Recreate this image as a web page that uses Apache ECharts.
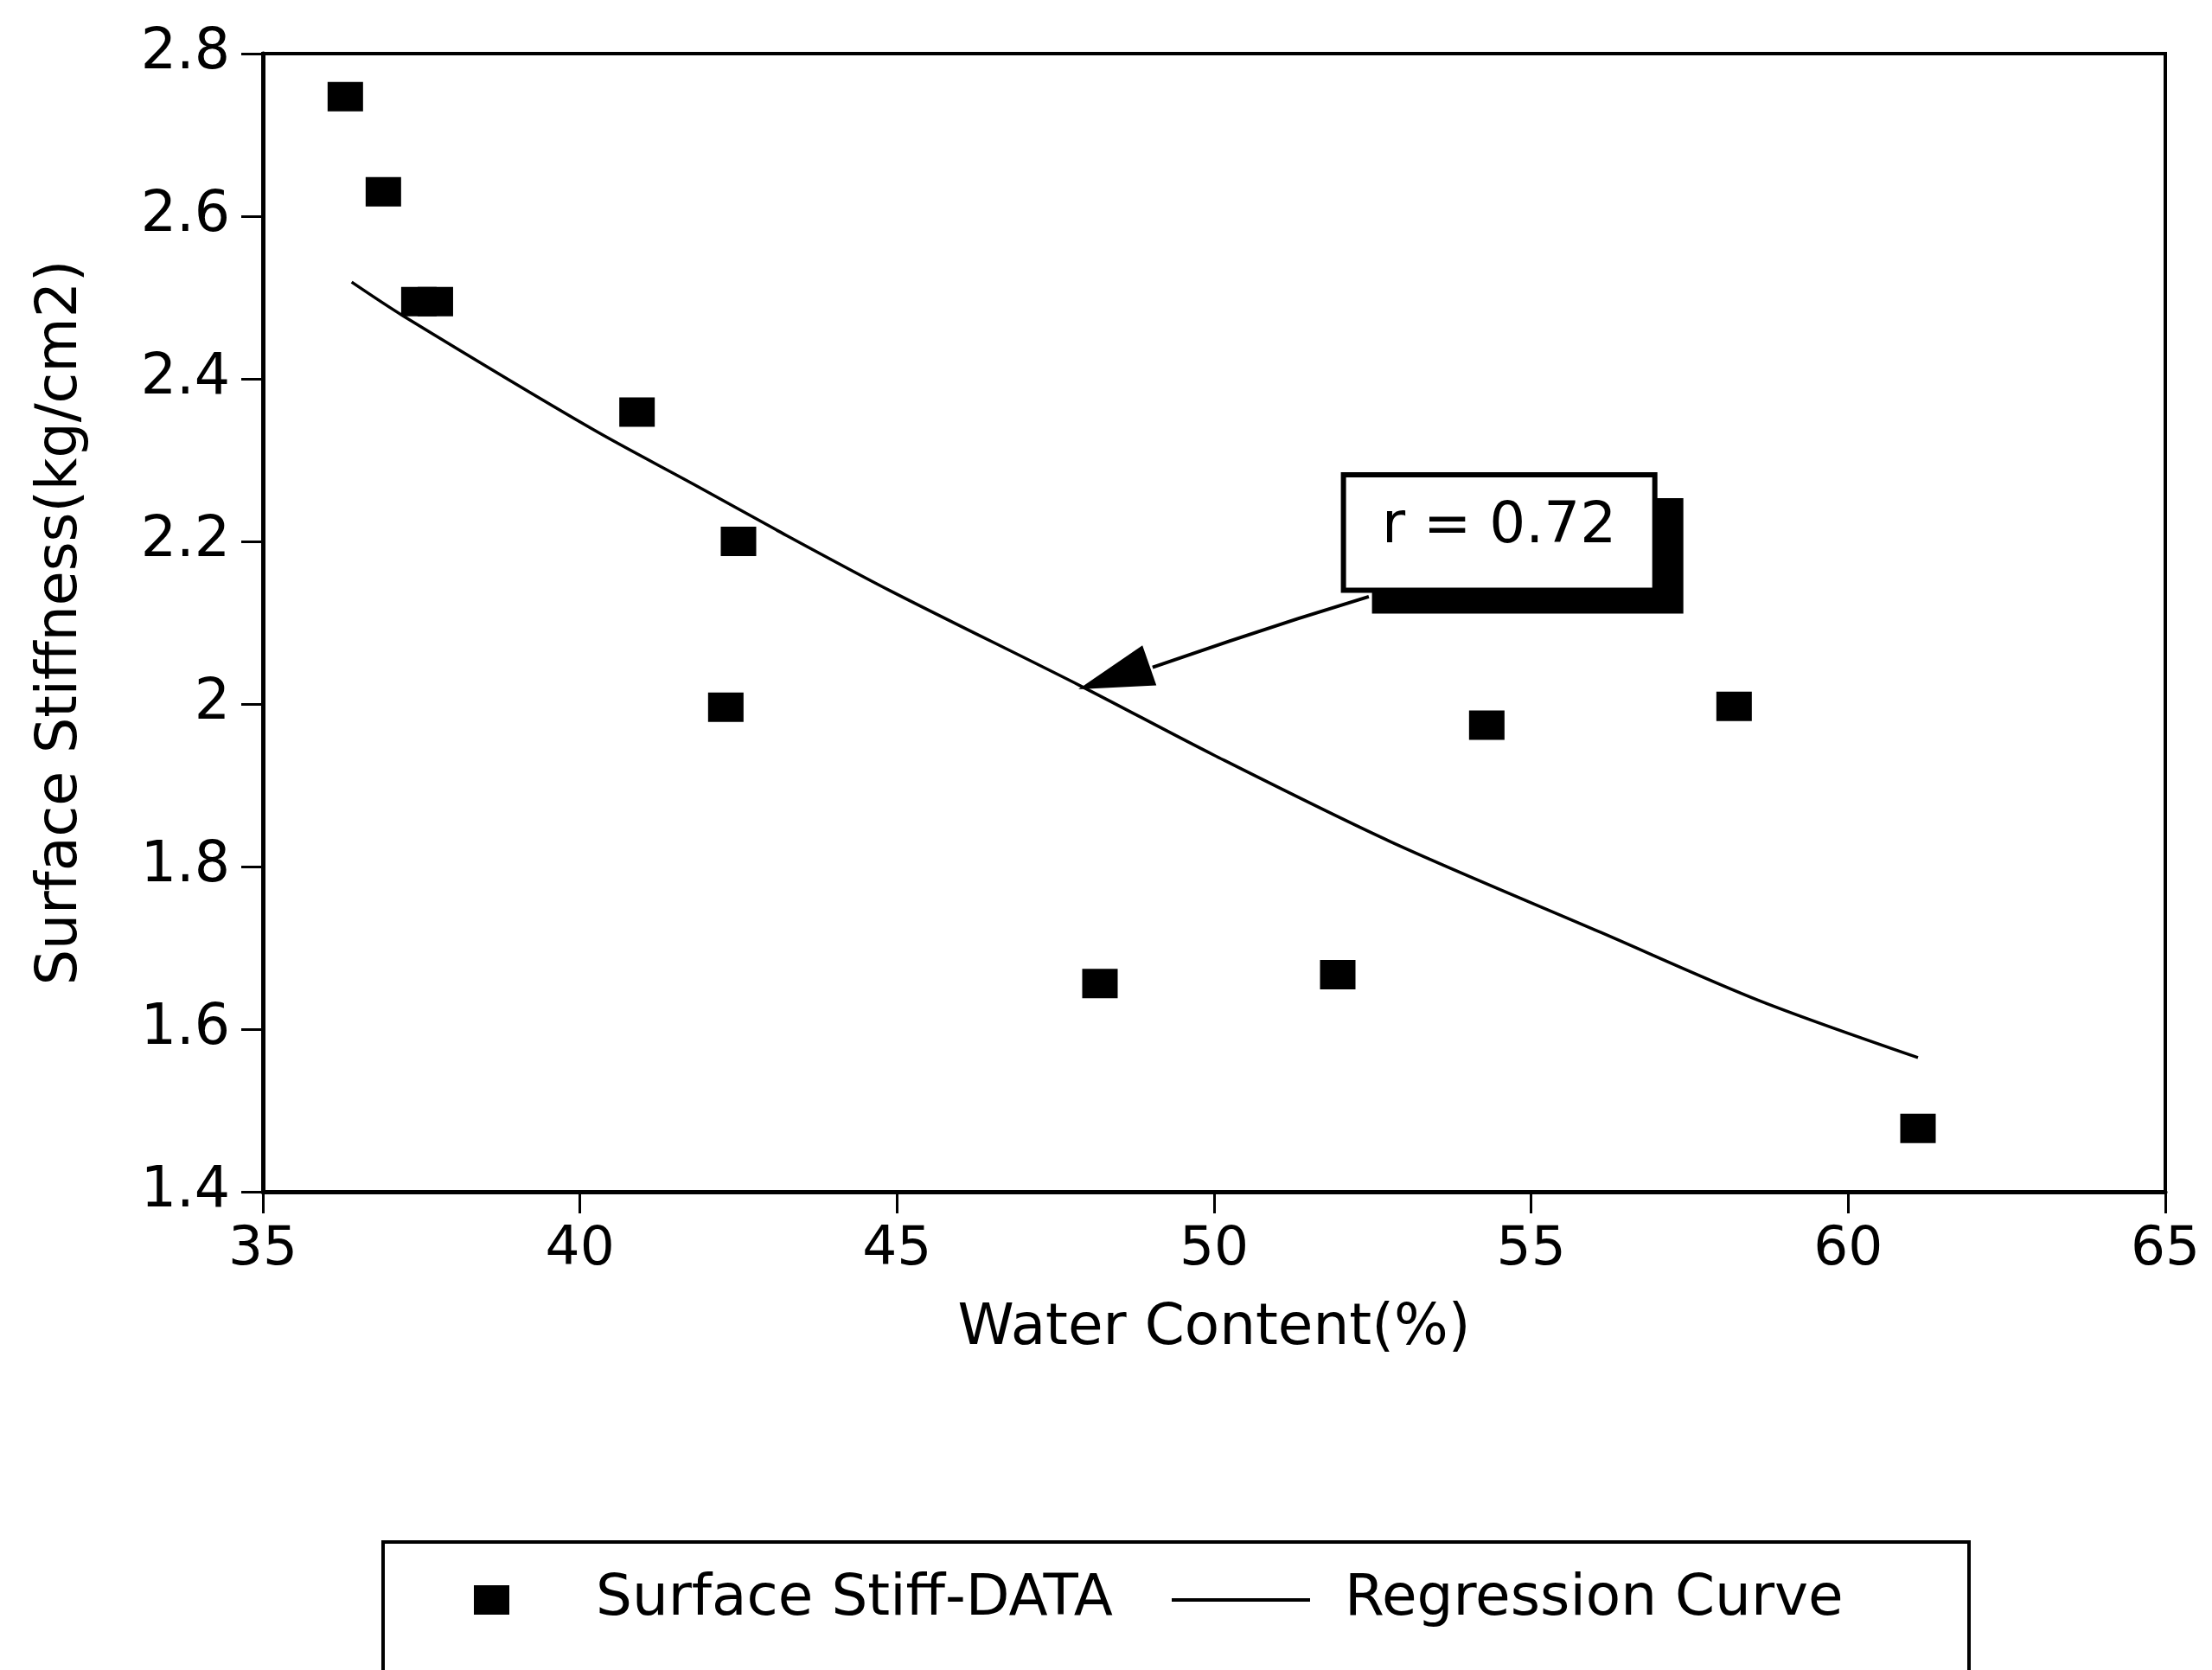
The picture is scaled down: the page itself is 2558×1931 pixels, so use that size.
<!DOCTYPE html>
<html>
<head>
<meta charset="utf-8">
<script src="https://cdn.jsdelivr.net/npm/echarts@6/dist/echarts.min.js"></script>
<style>
html,body{margin:0;padding:0;background:#fff;}
#chart{width:2558px;height:1931px;}
</style>
</head>
<body>
<div id="chart"></div>
<script>
// ---- data ----
const dataX = [36.3, 36.9, 37.46, 37.72, 40.9, 42.5, 42.3, 48.2, 51.95, 54.3, 58.2, 61.1];
const dataY = [2.747, 2.630, 2.495, 2.495, 2.359, 2.200, 1.996, 1.656, 1.667, 1.974, 1.997, 1.478];
const curveX = [36.4, 37.2, 40.2, 41.8, 43.1, 44.9, 47.9, 50.0, 52.8, 56.1, 58.6, 61.1];
const curveY = [2.519, 2.478, 2.338, 2.270, 2.214, 2.139, 2.022, 1.937, 1.830, 1.719, 1.635, 1.565];
const seriesNames = ['Surface Stiff-DATA', 'Regression Curve'];
const xAxisName = 'Water Content(%)';
const yAxisName = 'Surface Stiffness(kg/cm2)';
const annotationText = 'r = 0.72';
// annotation geometry in data coordinates
const boxCorners = [[52.04, 2.282], [56.95, 2.140]];
const arrowHead = [[47.86, 2.018], [48.87, 2.072], [49.09, 2.023]];
const arrowLine = [[49.03, 2.045], [50.23, 2.077], [51.32, 2.105], [52.44, 2.132]];

const FONT = 'DejaVu Sans';
const chart = echarts.init(document.getElementById('chart'), null, {renderer: 'canvas'});

const option = {
  animation: false,
  backgroundColor: '#fff',
  grid: {left: 304, right: 54, top: 62, bottom: 553, show: true, borderColor: '#000', borderWidth: 4, containLabel: false},
  xAxis: {
    type: 'value', min: 35, max: 65, interval: 5,
    name: xAxisName, nameLocation: 'middle', nameGap: 126,
    nameTextStyle: {fontFamily: FONT, fontSize: 66, color: '#000'},
    axisLine: {show: true, onZero: false, lineStyle: {color: '#000', width: 5}},
    axisTick: {show: true, length: 25, lineStyle: {color: '#000', width: 3}},
    axisLabel: {fontFamily: FONT, fontSize: 63, color: '#000', margin: 36, showMinLabel: true, showMaxLabel: true},
    splitLine: {show: false}
  },
  yAxis: {
    type: 'value', min: 1.4, max: 2.8, interval: 0.2,
    name: yAxisName, nameLocation: 'middle', nameGap: 200,
    nameTextStyle: {fontFamily: FONT, fontSize: 65, color: '#000'},
    axisLine: {show: true, onZero: false, lineStyle: {color: '#000', width: 5}},
    axisTick: {show: true, length: 25, lineStyle: {color: '#000', width: 3}},
    axisLabel: {fontFamily: FONT, fontSize: 65, color: '#000', margin: 38, showMinLabel: true, showMaxLabel: true},
    splitLine: {show: false}
  },
  legend: [
    {
      data: [{name: seriesNames[0], icon: 'rect', itemStyle: {color: '#000', opacity: 1}}],
      left: 543, top: 1812, itemWidth: 41, itemHeight: 34,
      textStyle: {fontFamily: FONT, fontSize: 66, color: '#000', padding: [0, 0, 0, 95]}
    },
    {
      data: [{name: seriesNames[1], icon: 'rect', itemStyle: {color: '#000'}}],
      left: 1350, top: 1812, itemWidth: 160, itemHeight: 4,
      textStyle: {fontFamily: FONT, fontSize: 66, color: '#000', padding: [0, 0, 0, 35]}
    }
  ],
  series: [
    {
      name: seriesNames[0], type: 'scatter',
      symbol: 'rect', symbolSize: [41, 34],
      itemStyle: {color: '#000', opacity: 1},
      data: dataX.map((x, i) => [x, dataY[i]]),
      z: 3
    },
    {
      name: seriesNames[1], type: 'line',
      showSymbol: false, symbol: 'none', smooth: 0.3,
      lineStyle: {color: '#000', width: 3.5},
      itemStyle: {color: '#000'},
      data: curveX.map((x, i) => [x, curveY[i]]),
      z: 2
    }
  ]
};
chart.setOption(option);

// annotation: box with shadow, text, arrow
const px = p => chart.convertToPixel({gridIndex: 0}, p);
const b0 = px(boxCorners[0]);
const b1 = px(boxCorners[1]);
const bx = b0[0], by = b0[1], bw = b1[0] - b0[0], bh = b1[1] - b0[1];
const sdx = 33, sdy = 27;
chart.setOption({
  graphic: [
    {type: 'rect', shape: {x: bx + sdx, y: by + sdy, width: bw, height: bh}, style: {fill: '#000'}, z: 10},
    {type: 'rect', shape: {x: bx, y: by, width: bw, height: bh}, style: {fill: '#fff', stroke: '#000', lineWidth: 6}, z: 11},
    {type: 'text', x: bx + bw / 2, y: by + bh / 2 - 6, style: {text: annotationText, font: '66px "DejaVu Sans"', fill: '#000', align: 'center', verticalAlign: 'middle'}, z: 12},
    {type: 'polyline', shape: {points: arrowLine.map(px)}, style: {stroke: '#000', lineWidth: 4, fill: null}, z: 10},
    {type: 'polygon', shape: {points: arrowHead.map(px)}, style: {fill: '#000'}, z: 10},
    {type: 'rect', shape: {x: 443, y: 1783, width: 1834, height: 400}, style: {fill: 'none', stroke: '#000', lineWidth: 4}, z: 1}
  ]
});
</script>
</body>
</html>
